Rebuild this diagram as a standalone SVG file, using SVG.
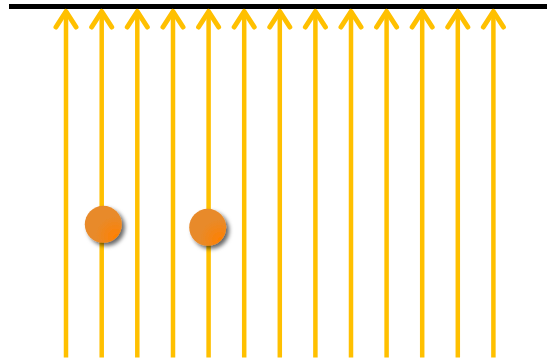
<svg xmlns="http://www.w3.org/2000/svg" width="547" height="361" viewBox="0 0 547 361">
<style>
.ray{stroke:#FFC000;stroke-width:4.5;fill:none;stroke-linecap:butt}
.head{stroke:#FFC000;stroke-width:5;fill:none;stroke-linecap:round;stroke-linejoin:round}
.ball{fill:url(#bg);filter:url(#sh)}
</style>
<defs>
<radialGradient id="bg" cx="0.8" cy="0.8" r="0.5" fx="0.85" fy="0.85">
<stop offset="0" stop-color="#FF8000"/>
<stop offset="1" stop-color="#E88A2A"/>
</radialGradient>
<filter id="sh" x="-50%" y="-50%" width="200%" height="200%">
<feGaussianBlur in="SourceAlpha" stdDeviation="2"/>
<feOffset dx="3" dy="3" result="b"/>
<feFlood flood-color="#000" flood-opacity="0.6"/>
<feComposite in2="b" operator="in"/>
<feMerge><feMergeNode/><feMergeNode in="SourceGraphic"/></feMerge>
</filter>
<g id="arrow">
<line class="ray" x1="0" y1="11" x2="0" y2="357.5"/>
<polyline class="head" points="-10,27 0,11.5 10,27"/>
</g>
</defs>
<g id="surface"><rect x="9" y="4" width="538" height="5" fill="#000"/></g>
<g id="connectors">
<use href="#arrow" x="66"/>
<use href="#arrow" x="101.7"/>
<use href="#arrow" x="137.3"/>
<use href="#arrow" x="173"/>
<use href="#arrow" x="208.6"/>
<use href="#arrow" x="244.2"/>
<use href="#arrow" x="279.8"/>
<use href="#arrow" x="315.4"/>
<use href="#arrow" x="351"/>
<use href="#arrow" x="386.6"/>
<use href="#arrow" x="422.2"/>
<use href="#arrow" x="457.8"/>
<use href="#arrow" x="493.4"/>
</g>
<g id="ball1"><circle class="ball" cx="103.3" cy="224.3" r="18.5"/></g>
<g id="ball2"><circle class="ball" cx="207.7" cy="227.3" r="18.5"/></g>
</svg>
